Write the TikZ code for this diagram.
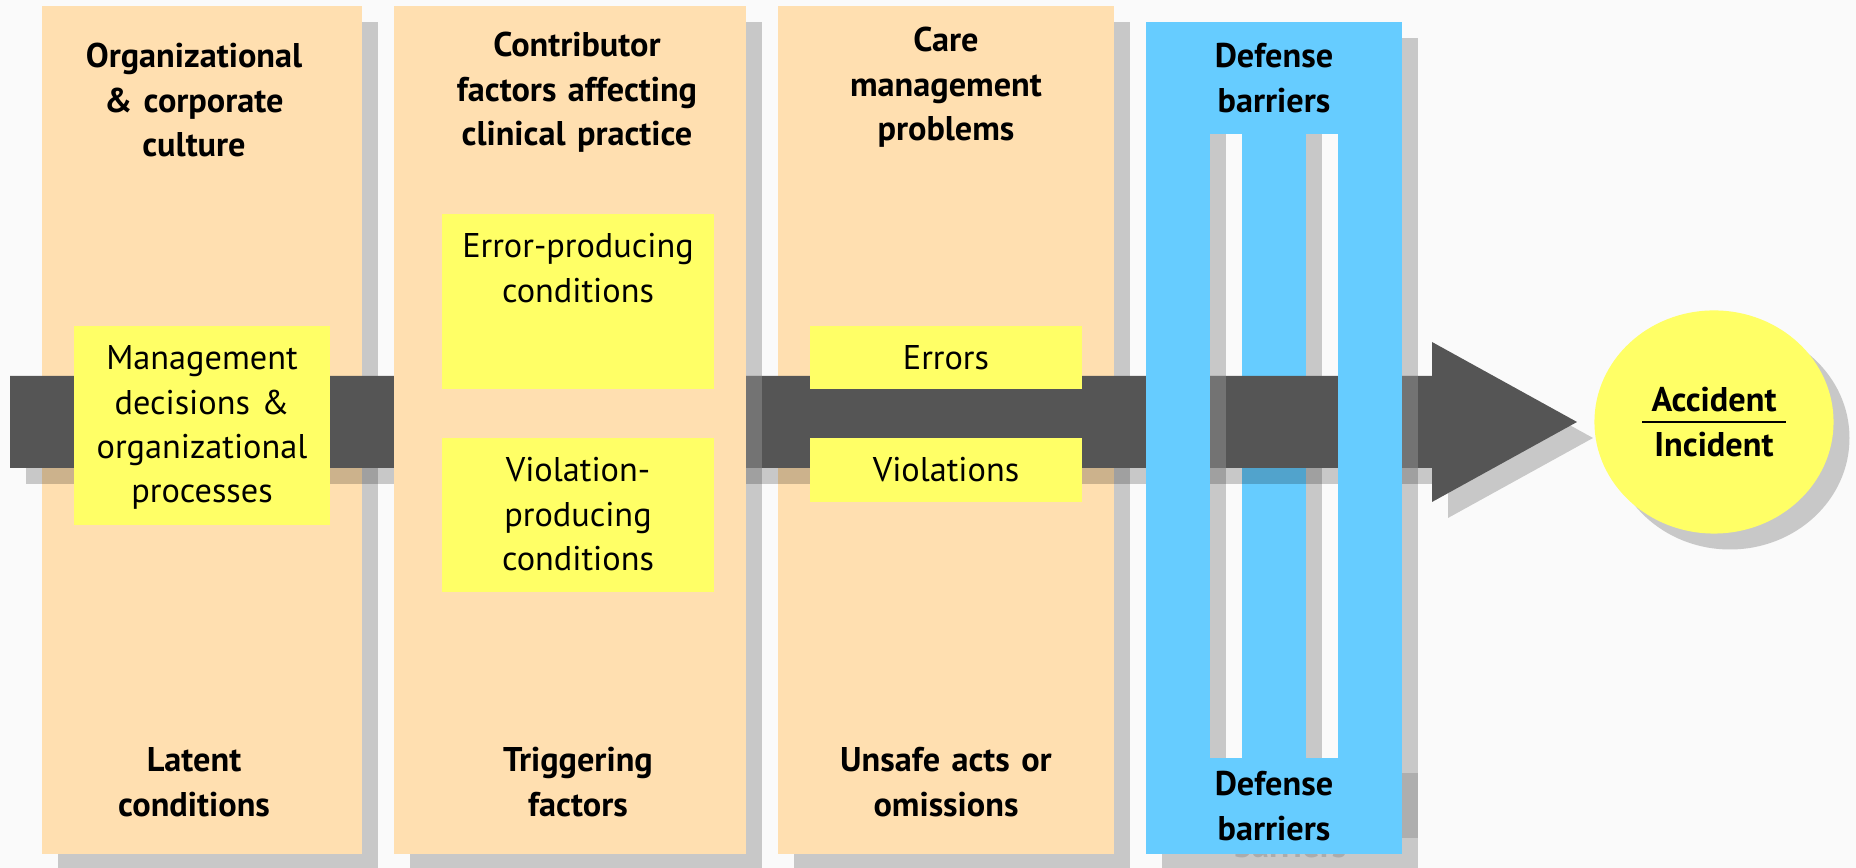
\documentclass[tikz,border=0pt]{standalone}
\usepackage{fontspec}
\setmainfont{PT Sans}
\usepackage{tikz}
\usetikzlibrary{positioning,shapes.geometric}

\definecolor{paper}{HTML}{FAFAFA}
\definecolor{peach}{HTML}{FFDFB0}
\definecolor{lemon}{HTML}{FFFF66}
\definecolor{sky}{HTML}{66CCFF}
\definecolor{pipe}{HTML}{555555}
\definecolor{castgray}{HTML}{C8C8C8}

\begin{document}
\begin{tikzpicture}[x=0.01cm,y=-0.01cm,
    head/.style={font=\bfseries\fontsize{9.75}{12.6}\selectfont,text width=3.4cm,align=center,anchor=base,inner sep=0pt},
    plain/.style={font=\fontsize{9.75}{12.6}\selectfont,text width=3.4cm,align=center,anchor=base,inner sep=0pt}]
	\useasboundingbox (0,0) rectangle (1856,868);
	\fill[paper] (0,0) rectangle (1856,868);
	% columns lying under the arrow
	\foreach \l/\r in {42/362,778/1114}{
		\fill[castgray] (\l+16,22) rectangle (\r+16,868);
		\fill[peach] (\l,6) rectangle (\r,854);
	}
	\fill[castgray] (410,22) rectangle (762,868);
	% defense barriers
	\fill[castgray] (1162,38) rectangle (1418,868);
	\node[head,text=black!33] (ghost) at (1290,858) {barriers};
	\fill[black,opacity=0.13] (1402,773) rectangle (1418,838);
	\fill[sky] (1146,22) rectangle (1402,854);
	\foreach \x in {1210,1306}{
		\fill[castgray] (\x,134) rectangle (\x+16,758);
		\fill[paper] (\x+16,134) rectangle (\x+32,758);
	}
	% the arrow
	\fill[black,opacity=0.2] (26,392) -- (1448,392) -- (1448,358) -- (1593,438)
		-- (1448,518) -- (1448,484) -- (26,484) -- cycle;
	\fill[pipe] (10,376) -- (1432,376) -- (1432,342) -- (1577,422)
		-- (1432,502) -- (1432,468) -- (10,468) -- cycle;
	\foreach \x in {746,1210,1402}
		\fill[white,opacity=0.18] (\x,376) rectangle (\x+16,468);
	% parts lying over the arrow
	\fill[peach] (394,6) rectangle (746,854);
	\fill[sky] (1146,134) rectangle (1210,758);
	\fill[sky] (1338,134) rectangle (1402,758);
	\fill[lemon] (74,326) rectangle (330,525);
	\fill[lemon] (442,214) rectangle (714,389);
	\fill[lemon] (442,438) rectangle (714,592);
	\fill[lemon] (810,326) rectangle (1082,389);
	\fill[lemon] (810,438) rectangle (1082,502);
	% outcome
	\fill[castgray] (1730,438) ellipse [x radius=119.5,y radius=111.5];
	\node[ellipse,fill=lemon,minimum width=2.39cm,minimum height=2.23cm,inner sep=0pt] (hit) at (1714,422) {};

	\node[head] (org) at (194,68) {Organizational\\\& corporate\\culture};
	\node[head] (contrib) at (577,57) {Contributor\\factors affecting\\clinical practice};
	\node[head] (care) at (946,52) {Care\\management\\problems};
	\node[head] (deftop) at (1274,68) {Defense\\barriers};
	\node[head] (latent) at (194,772) {Latent\\conditions};
	\node[head] (trigger) at (578,772) {Triggering\\factors};
	\node[head] (unsafe) at (946,772) {Unsafe acts or\\omissions};
	\node[head] (defbot) at (1274,796) {Defense\\barriers};
	\node[plain] (mgmt) at (202,370) {Management\\decisions \&\\organizational\\processes};
	\node[plain] (epc) at (578,258) {Error-producing\\conditions};
	\node[plain] (vpc) at (578,482) {Violation-\\producing\\conditions};
	\node[plain] (errors) at (946,370) {Errors};
	\node[plain] (violations) at (946,482) {Violations};
	\node[head] (accident) at (1714,412) {Accident};
	\node[head] (incident) at (1714,457) {Incident};
	\draw[line width=0.65pt] (1642,422) -- (1786,422);
\end{tikzpicture}
\end{document}
